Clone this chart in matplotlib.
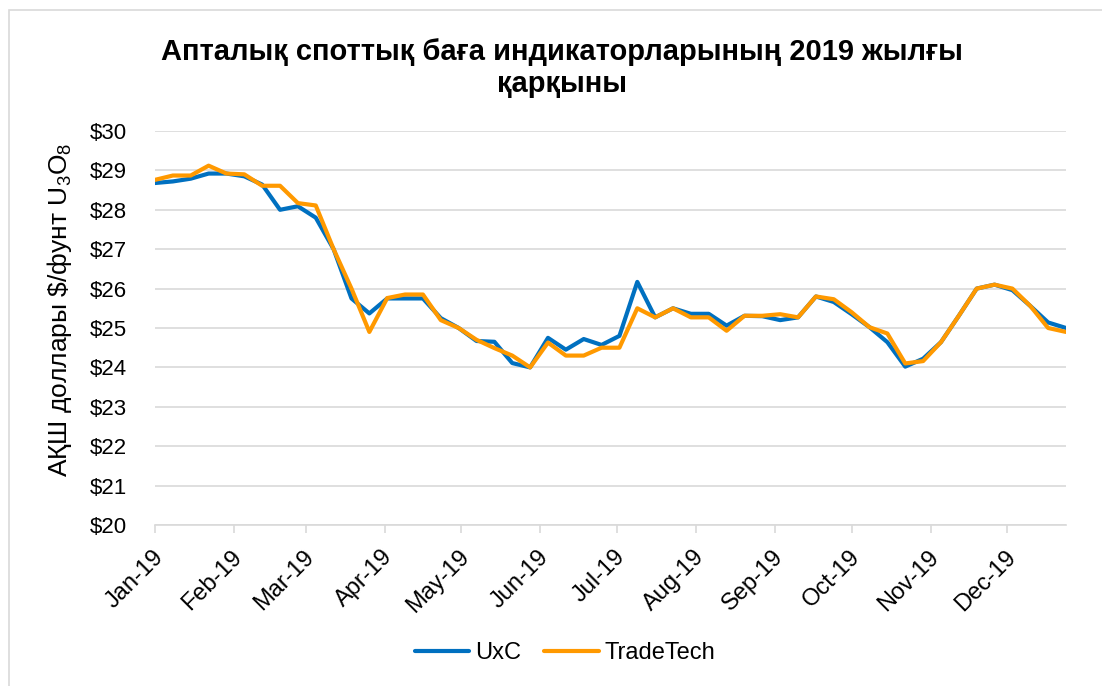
import numpy as np
import pandas as pd
import matplotlib
matplotlib.use('Agg')
import matplotlib.pyplot as plt
import matplotlib.dates as mdates
import matplotlib.transforms as mtransforms
from matplotlib.ticker import FuncFormatter, MultipleLocator
from matplotlib.patches import Rectangle

plt.rcParams['font.family'] = ['Liberation Sans', 'DejaVu Sans']
plt.rcParams['mathtext.default'] = 'regular'

# апталық деректер (2019 ж., әр 7 күн сайын)
weeks = pd.date_range('2019-01-01', periods=52, freq='7D')

uxc = [28.68, 28.72, 28.79, 28.92, 28.92, 28.85, 28.64, 28.00, 28.09, 27.80,
       27.00, 25.75, 25.37, 25.75, 25.75, 25.75, 25.25, 25.00, 24.67, 24.65,
       24.11, 24.00, 24.75, 24.45, 24.72, 24.57, 24.80, 26.17, 25.27, 25.50,
       25.36, 25.36, 25.06, 25.31, 25.30, 25.20, 25.27, 25.80, 25.66, 25.35,
       25.02, 24.64, 24.02, 24.22, 24.64, 25.31, 26.00, 26.10, 25.96, 25.56,
       25.14, 25.00]

tradetech = [28.76, 28.87, 28.87, 29.12, 28.92, 28.90, 28.61, 28.61, 28.17, 28.11,
             27.00, 26.00, 24.90, 25.76, 25.85, 25.85, 25.20, 25.00, 24.70, 24.49,
             24.30, 24.00, 24.63, 24.30, 24.30, 24.50, 24.50, 25.50, 25.27, 25.50,
             25.27, 25.27, 24.93, 25.31, 25.31, 25.35, 25.27, 25.80, 25.73, 25.40,
             25.02, 24.86, 24.10, 24.16, 24.64, 25.31, 26.00, 26.10, 26.00, 25.56,
             25.00, 24.90]

title = 'Апталық споттық баға индикаторларының 2019 жылғы\nқарқыны'
ylabel = 'АҚШ доллары \\$/фунт U$_3$O$_8$'

fig = plt.figure(figsize=(11.02, 6.86), dpi=100)
ax = fig.add_axes([155/1102, 1 - 525/686, (1066 - 155)/1102, (525 - 131)/686])

grid_c = '#D9D9D9'

ax.plot(weeks, uxc, color='#0070C0', linewidth=3, label='UxC',
        solid_joinstyle='round', solid_capstyle='round')
ax.plot(weeks, tradetech, color='#FF9900', linewidth=3, label='TradeTech',
        solid_joinstyle='round', solid_capstyle='round')

ax.set_ylim(20, 30)
ax.set_xlim(weeks[0], weeks[-1])
ax.yaxis.set_major_locator(MultipleLocator(1))
ax.yaxis.set_major_formatter(FuncFormatter(lambda v, p: f'${v:.0f}'))
ax.grid(axis='y', color=grid_c, linewidth=1.2)
ax.set_axisbelow(True)

ax.xaxis.set_major_locator(mdates.MonthLocator())
ax.xaxis.set_major_formatter(mdates.DateFormatter('%b-%y'))

for s in ['top', 'right', 'left']:
    ax.spines[s].set_visible(False)
ax.spines['bottom'].set_color(grid_c)
ax.spines['bottom'].set_linewidth(1.2)

ax.tick_params(axis='y', length=0, pad=20, labelsize=16)
ax.tick_params(axis='x', length=6, color=grid_c, width=1.2, labelsize=17, pad=9)
shift = mtransforms.ScaledTranslation(-2/72, 0, fig.dpi_scale_trans)
for lbl in ax.get_xticklabels():
    lbl.set_rotation(45)
    lbl.set_ha('right')
    lbl.set_va('top')
    lbl.set_rotation_mode('anchor')
    lbl.set_transform(lbl.get_transform() + shift)

fig.text(60/1102, 1 - 310/686, ylabel, rotation=90, fontsize=19,
         ha='center', va='center')

fig.suptitle(title, x=562/1102, y=1 - 38/686, fontsize=21, fontweight='bold',
             va='top', linespacing=1.18)

fig.legend(loc='center', bbox_to_anchor=(565/1102, 1 - 653/686), ncol=2,
           frameon=False, fontsize=17, handlelength=2.3, handletextpad=0.25,
           columnspacing=1.0)

fig.patches.append(Rectangle((9/1102, -0.05), 1.2, 1.05 - 10/686,
                             transform=fig.transFigure, fill=False,
                             edgecolor=grid_c, linewidth=1.2))

plt.savefig('out.png', dpi=100)
plt.close()
